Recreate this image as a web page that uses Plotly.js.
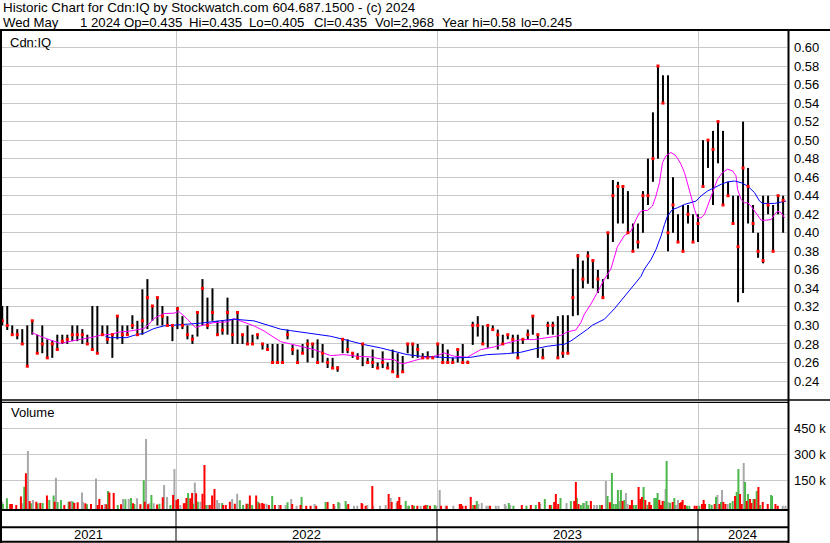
<!DOCTYPE html>
<html><head><meta charset="utf-8">
<script src="https://cdn.plot.ly/plotly-3.0.1.min.js"></script>
<style>html,body{margin:0;padding:0;background:#fff}#chart{width:830px;height:543px}</style>
</head><body><div id="chart"></div>
<script>
// ---------- DATA ----------
const START = '2021-05-03';            // week 0 (weekly samples of the daily chart)
const weekHi = [
.321,.321,.300,.296,.296,.300,.305,.290,.300,.285,
.284,.290,.290,.290,.300,.300,.296,.290,.321,.321,
.300,.300,.290,.310,.300,.300,.311,.305,.339,.350,
.321,.330,.321,.310,.300,.320,.310,.300,.290,.314,
.350,.330,.340,.305,.305,.330,.307,.314,.290,.300,
.290,.290,.280,.280,.280,.280,.280,.2955,.279,.274,
.280,.285,.280,.285,.280,.265,.265,.256,.285,.285,
.270,.270,.280,.265,.274,.260,.272,.260,.274,.270,
.267,.280,.280,.280,.270,.272,.267,.280,.280,.274,
.265,.275,.280,.262,.304,.310,.300,.300,.300,.2955,
.290,.290,.290,.290,.285,.2955,.310,.290,.275,.304,
.304,.310,.311,.311,.361,.377,.370,.380,.370,.360,
.350,.400,.457,.455,.450,.445,.410,.410,.445,.480,
.530,.580,.570,.570,.460,.420,.430,.430,.420,.420,
.500,.500,.510,.520,.510,.455,.440,.440,.520,.470,
.430,.400,.440,.440,.430,.440,.440];
const weekLo = [
.300,.295,.290,.285,.280,.256,.290,.270,.270,.265,
.265,.274,.280,.280,.283,.283,.280,.280,.274,.270,
.290,.280,.265,.285,.280,.290,.296,.290,.290,.296,
.305,.300,.300,.2995,.283,.296,.296,.285,.280,.288,
.300,.296,.305,.290,.290,.290,.280,.280,.280,.280,
.280,.285,.274,.274,.260,.260,.260,.285,.268,.260,
.270,.260,.265,.260,.260,.254,.254,.250,.270,.270,
.265,.263,.256,.260,.254,.254,.254,.254,.250,.245,
.250,.270,.265,.265,.265,.265,.265,.265,.260,.260,
.260,.260,.260,.260,.279,.288,.280,.276,.295,.274,
.280,.285,.270,.265,.280,.285,.290,.265,.265,.290,
.290,.265,.265,.270,.310,.311,.340,.345,.340,.335,
.330,.350,.390,.410,.410,.400,.380,.383,.400,.430,
.455,.480,.540,.380,.400,.390,.380,.410,.390,.390,
.450,.470,.430,.475,.430,.440,.410,.325,.335,.410,
.400,.373,.367,.420,.380,.420,.400];
const weekCl = [
.305,.300,.290,.290,.280,.256,.305,.270,.280,.265,
.280,.274,.283,.285,.290,.290,.290,.280,.274,.270,
.290,.285,.290,.310,.290,.290,.300,.290,.305,.330,
.321,.330,.310,.300,.300,.318,.300,.290,.285,.314,
.340,.300,.314,.290,.295,.314,.290,.314,.290,.280,
.280,.290,.280,.274,.260,.260,.260,.290,.274,.260,
.270,.280,.280,.260,.270,.260,.254,.254,.285,.274,
.270,.265,.280,.260,.260,.254,.260,.254,.250,.245,
.250,.280,.280,.274,.265,.265,.265,.280,.260,.260,
.260,.274,.260,.260,.300,.300,.280,.300,.2955,.290,
.280,.290,.285,.265,.285,.290,.310,.290,.265,.300,
.300,.265,.270,.270,.330,.375,.350,.375,.370,.350,
.330,.400,.440,.450,.450,.400,.380,.390,.440,.440,
.480,.580,.540,.400,.430,.390,.380,.420,.390,.410,
.450,.500,.490,.520,.430,.440,.410,.385,.470,.450,
.410,.380,.370,.430,.380,.440,.435];

// short moving average (magenta) : position in weeks from START, value
const pinkWk = [5.9,8.3,11.6,13.6,15.6,17.6,19.6,21.6,23.6,25.6,28.3,29.3,30.3,32.3,34.3,35.3,37.0,38.6,39.6,42.3,45.0,46.3,47.6,50.3,52.3,54.3,55.6,57.6,59.6,62.3,65.6,68.3,70.9,73.6,75.6,78.3,79.3,80.3,82.3,84.3,86.9,88.3,90.3,92.9,95.6,98.3,100.9,103.6,106.3,108.9,110.3,111.6,112.9,114.6,115.6,116.3,117.6,118.9,120.3,121.6,122.9,124.3,125.6,126.6,127.3,127.9,128.9,129.9,130.6,131.3,131.9,132.6,133.6,134.6,135.6,136.3,136.9,137.6,138.3,138.9,139.6,140.3,140.9,141.6,142.3,142.9,143.9,144.9,145.9,146.6,146.9,147.6,148.3,148.9,149.6,150.3,150.9,151.6,152.6,153.6,154.3,154.9,155.6,156.3];
const pinkMA = [.2922,.2868,.2806,.2832,.285,.2868,.2893,.2904,.293,.294,.2966,.3013,.3074,.3128,.3132,.315,.3067,.2976,.2995,.3031,.3038,.3074,.3049,.2995,.294,.2868,.2825,.280,.2775,.2739,.2674,.2685,.2667,.266,.2638,.2631,.2595,.2588,.262,.2649,.2674,.2703,.2667,.2656,.2739,.2768,.2811,.2847,.2847,.2865,.288,.2893,.293,.2951,.3031,.3121,.323,.3356,.350,.361,.385,.397,.4017,.4143,.4216,.4241,.4241,.4288,.4397,.4541,.4758,.483,.4867,.483,.474,.465,.454,.4397,.4252,.4161,.4161,.4198,.4288,.4397,.4505,.4578,.465,.4686,.4668,.4614,.4469,.436,.4324,.4324,.4288,.4234,.418,.4136,.4136,.4143,.4198,.4234,.4216,.4161];
// long moving average (blue)
const blueWk = [20.6,21.6,24.9,26.3,28.3,30.3,32.3,34.3,37.0,39.6,42.3,45.0,46.3,50.3,52.9,55.6,57.6,59.6,62.3,65.6,68.9,72.3,75.6,78.3,80.9,83.6,86.3,90.3,93.6,96.9,100.9,103.6,106.3,108.9,111.6,112.3,113.6,114.9,116.9,117.9,120.3,122.3,124.3,126.3,127.6,128.3,129.6,130.6,131.6,132.3,132.9,133.9,134.9,136.3,137.6,138.6,139.6,140.9,142.3,143.6,144.9,146.3,147.6,148.9,150.3,151.3,151.9,154.3,156.6];
const blueMA = [.2879,.2868,.2868,.2893,.2915,.2966,.2995,.3002,.3013,.3024,.3042,.306,.3067,.3049,.3002,.296,.2944,.293,.2908,.2883,.284,.2793,.2757,.2721,.2685,.2667,.266,.2649,.2656,.2685,.2696,.271,.2746,.2775,.2793,.2796,.2832,.2879,.2958,.3002,.3067,.318,.331,.344,.3529,.3609,.371,.3818,.3963,.4089,.418,.4252,.427,.4306,.4324,.4342,.4397,.4451,.4487,.4523,.4549,.4559,.4541,.4505,.4433,.4342,.4317,.4317,.4342];

// volume bars: position (weeks from START), volume (thousands), colour (g=up, r=down, n=unchanged)
const volWk = [0.0,0.13,0.93,1.6,1.93,2.8,3.73,4.0,4.4,4.73,5.13,5.47,5.73,6.13,6.8,7.07,7.6,8.07,8.93,9.4,10.27,10.47,10.73,11.07,11.73,12.4,13.27,13.47,13.8,14.13,14.4,15.07,15.93,16.13,16.6,16.93,17.73,18.73,19.07,19.4,19.93,20.47,20.8,21.13,21.4,22.27,23.07,23.73,24.13,24.6,25.27,25.73,26.13,26.4,26.93,27.6,28.27,28.47,28.73,29.13,29.4,29.8,30.27,30.93,31.4,32.07,32.33,32.93,33.6,34.13,34.4,34.8,35.13,35.6,36.27,36.47,36.8,37.13,37.4,37.6,37.93,38.13,38.47,38.73,39.07,39.6,40.0,40.4,40.73,41.13,41.47,41.93,42.4,42.93,43.33,43.93,44.13,44.67,45.47,45.93,46.47,46.93,47.47,48.13,48.8,49.07,49.47,49.93,50.73,51.13,51.4,51.93,52.27,52.8,53.27,
53.93,54.47,55.27,55.6,56.6,57.0,57.73,57.93,58.8,59.6,59.8,60.73,61.6,62.4,62.73,64.6,65.0,66.2,66.4,67.13,67.4,68.6,68.73,69.13,70.27,70.93,71.8,71.93,72.6,72.93,73.93,74.13,75.47,76.6,77.2,77.6,77.8,78.8,79.0,79.33,79.6,80.6,80.93,81.27,81.93,82.27,82.93,83.6,84.27,84.6,84.93,85.47,86.4,86.73,87.4,87.67,88.6,88.8,90.13,91.4,91.67,91.93,92.6,93.6,94.07,94.4,94.8,95.13,95.8,96.73,97.13,97.47,98.6,99.13,100.4,100.6,101.2,101.47,102.13,103.8,104.73,
105.6,106.6,107.27,107.47,108.4,109.4,109.67,110.27,110.6,111.07,111.53,112.73,113.6,114.27,114.6,114.8,115.13,115.6,116.07,116.27,116.73,117.07,117.6,118.27,118.8,119.4,119.8,120.6,120.93,121.4,121.8,122.13,122.6,123.0,123.27,123.6,123.93,124.27,124.6,124.93,125.4,125.8,126.13,126.6,127.13,127.47,127.8,128.13,128.47,128.93,129.27,129.6,130.27,130.6,130.93,131.27,131.6,131.93,132.27,132.53,132.73,133.07,133.4,133.93,134.27,134.6,135.0,135.4,135.67,135.93,136.4,136.8,137.27,138.33,138.73,139.27,139.8,140.13,140.4,141.27,141.73,142.33,142.6,142.87,143.27,143.6,143.8,144.07,144.47,144.93,145.4,145.93,146.4,146.73,147.07,147.4,147.73,148.13,148.4,148.73,149.0,149.4,149.67,150.07,150.33,150.73,151.07,151.4,151.93,152.93,153.6,153.8,154.47,154.93,155.93,156.47];
const volK = [27,13,46,13,13,8,56,17,113,190,319,31,17,37,27,17,19,19,62,37,62,27,165,25,37,8,27,27,31,27,19,23,79,25,17,12,13,160,8,42,8,13,12,88,79,77,8,12,42,40,42,48,17,13,46,12,150,27,388,12,17,65,17,10,15,52,123,54,8,65,215,37,42,8,17,17,48,77,42,46,77,15,138,75,27,27,73,238,8,8,8,62,100,37,19,19,8,8,27,42,15,73,35,8,15,15,62,8,62,27,17,19,15,15,8,
60,8,8,8,8,23,42,13,3,8,54,3,3,13,3,25,25,13,3,25,19,31,8,13,3,3,19,13,3,8,117,3,3,8,71,48,25,19,31,54,8,31,3,3,8,3,3,3,3,8,8,3,8,3,94,3,3,3,3,13,13,3,3,54,8,8,31,13,19,3,3,3,3,3,13,3,19,8,3,8,3,
8,8,25,13,42,8,8,25,71,13,48,19,31,31,140,48,13,8,19,19,31,8,31,8,8,8,8,146,60,23,192,13,13,94,31,94,31,37,77,13,8,37,8,8,111,42,54,111,37,8,25,8,48,48,77,37,8,31,31,100,262,25,19,25,48,8,37,19,25,37,8,3,3,3,3,3,13,37,13,13,8,13,54,65,13,25,94,25,13,13,19,31,60,83,215,71,13,250,140,31,71,42,19,42,42,88,111,8,25,13,65,60,13,3,3,3];
const volCol = 'nggrrrrngrnrgnrgrgrggrnggrgrngrrnnrgrnrrrnrgrrgrngngrgnrgrnrngnrgrnngrnrrnrrrgnrrgnrgnrrgnrrrnngrrrnrnggrgrgrgrrrnrg' +
'rnrngnrnrgrrnrgrrngnggrnnrrrnrnnnrnrnrrrgngrgrnrrgrgnnrnrnrrrrrgrgnnnnrnnnngngrgrgrngr' +
'grrrgngrrgrggnggrnngrngrggggngrgnnrrggrrrgrgrrgggrrrgngngrgnnrrrrggrrgrrrggrgnrgnrrnggrggrrngrgrrgrgrgrrggrrnngrrrgrgrrrngrgrnrgg';

const yearLabels = ['2021', '2022', '2023', '2024'];
const priceTicks = [0.24,0.26,0.28,0.30,0.32,0.34,0.36,0.38,0.40,0.42,0.44,0.46,0.48,0.50,0.52,0.54,0.56,0.58,0.60];
const volTicks = [150000, 300000, 450000];
const volTickText = ['150 k', '300 k', '450 k'];
const headerLine1 = 'Historic Chart for Cdn:IQ by Stockwatch.com 604.687.1500 - (c) 2024';
const headerLine2 = ['Wed May', '1 2024', 'Op=0.435', 'Hi=0.435', 'Lo=0.405', 'Cl=0.435', 'Vol=2,968', 'Year hi=0.58', 'lo=0.245'];

// ---------- helpers ----------
const W = 830, H = 543;
const t0 = Date.parse(START + 'T00:00:00Z');
const DAY = 86400000;
function wkDate(w) { return new Date(t0 + w * 7 * DAY).toISOString().slice(0, 19).replace('T', ' '); }
const X_RANGE = ['2021-04-29 20:53', '2024-05-04 11:00'];
const VOL_RANGE = [-21300, 600000];
const py = p => 1 - p / H;        // pixel row -> paper fraction
const pxX = p => p / W;

// price hi-lo bars
const bx = [], by = [];
for (let i = 0; i < weekHi.length; i++) {
  const d = wkDate(i);
  bx.push(d, d, null); by.push(weekLo[i], weekHi[i], null);
}
const traces = [];
traces.push({type:'scatter', mode:'lines', x:bx, y:by, xaxis:'x', yaxis:'y',
  line:{color:'#000', width:2}, hoverinfo:'skip', connectgaps:false});
traces.push({type:'scatter', mode:'lines', x:pinkWk.map(wkDate), y:pinkMA, xaxis:'x', yaxis:'y',
  line:{color:'#ff00ff', width:1}, hoverinfo:'skip'});
traces.push({type:'scatter', mode:'lines', x:blueWk.map(wkDate), y:blueMA, xaxis:'x', yaxis:'y',
  line:{color:'#0000ff', width:1}, hoverinfo:'skip'});
traces.push({type:'scatter', mode:'markers', x:weekCl.map((v,i)=>wkDate(i)), y:weekCl, xaxis:'x', yaxis:'y',
  marker:{symbol:'square', size:3, color:'#ff0000', line:{width:0}}, hoverinfo:'skip'});

// volume bars
const colMap = {g:'#4cb84c', r:'#ff0000', n:'#a8a8a8'};
['n','g','r'].forEach(c => {
  const vx = [], vy = [];
  for (let i = 0; i < volWk.length; i++) {
    if (volCol[i] !== c) continue;
    const d = wkDate(volWk[i]);
    vx.push(d, d, null); vy.push(VOL_RANGE[0], volK[i] * 1000, null);
  }
  traces.push({type:'scatter', mode:'lines', x:vx, y:vy, xaxis:'x2', yaxis:'y2',
    line:{color:colMap[c], width:2}, hoverinfo:'skip'});
});

// ---------- layout ----------
const FONT = '"Liberation Sans", Arial, Helvetica, sans-serif';
const yearStarts = ['2022-01-01', '2023-01-01', '2024-01-01'];
const shapes = [];
function hl(y, x0, x1, w) { shapes.push({type:'line', xref:'paper', yref:'paper', x0:pxX(x0), x1:pxX(x1), y0:py(y), y1:py(y), line:{color:'#000', width:w}}); }
function vl(x, y0, y1, w) { shapes.push({type:'line', xref:'paper', yref:'paper', x0:pxX(x), x1:pxX(x), y0:py(y0), y1:py(y1), line:{color:'#000', width:w}}); }
hl(30, 0, 830, 2);
hl(400, 0, 830, 1.5);
hl(402.3, 0, 788, 1.2);
hl(510, 0, 788, 2);
hl(527.3, 0, 788, 2);
hl(541.7, 0, 788, 2);
vl(1, 29, 543, 2);
vl(788.5, 29, 543, 2);
yearStarts.forEach(d => shapes.push({type:'line', xref:'x', yref:'paper', x0:d, x1:d, y0:py(542), y1:py(510), line:{color:'#000', width:1}}));

const annotations = [
  {text:headerLine1.replace(/ /g, '\u00a0'), xref:'paper', yref:'paper', x:pxX(1), y:py(8), xanchor:'left', yanchor:'middle', showarrow:false, font:{size:13.4, family:FONT, color:'#000'}},
  {text:'Cdn:IQ', xref:'paper', yref:'paper', x:pxX(8), y:py(42), xanchor:'left', yanchor:'middle', showarrow:false, font:{size:13, family:FONT, color:'#000'}},
  {text:'Volume', xref:'paper', yref:'paper', x:pxX(9), y:py(413), xanchor:'left', yanchor:'middle', showarrow:false, font:{size:13, family:FONT, color:'#000'}}
];
// header line 2 items at their column positions
const line2X = [1, 78, 122, 187, 247, 312, 373, 440, 519];
headerLine2.forEach((t, k) => annotations.push({text:t.replace(/ /g, '\u00a0'), xref:'paper', yref:'paper', x:pxX(line2X[k]), y:py(22.5),
  xanchor:'left', yanchor:'middle', showarrow:false, font:{size:13.2, family:FONT, color:'#000'}}));
// year labels centred in each year's segment
const r0 = Date.parse(X_RANGE[0].replace(' ', 'T') + ':00Z'), r1 = Date.parse(X_RANGE[1].replace(' ', 'T') + ':00Z');
yearLabels.forEach(y => {
  const a = Math.max(r0, Date.parse(y + '-01-01T00:00:00Z'));
  const b = Math.min(r1, Date.parse((+y + 1) + '-01-01T00:00:00Z'));
  const mid = new Date((a + b) / 2).toISOString().slice(0, 19).replace('T', ' ');
  annotations.push({text:y, xref:'x', yref:'paper', x:mid, y:py(534.5), xanchor:'center', yanchor:'middle', showarrow:false, font:{size:13, family:FONT, color:'#000'}});
});

const layout = {
  width:W, height:H, margin:{l:0, r:0, t:0, b:0, pad:0},
  paper_bgcolor:'#fff', plot_bgcolor:'#fff', showlegend:false,
  font:{family:FONT, size:13, color:'#000'},
  xaxis:{domain:[0, pxX(787)], range:X_RANGE, type:'date', tickvals:yearStarts, showticklabels:false,
    showgrid:true, gridcolor:'#c8c8c8', gridwidth:1, zeroline:false, ticks:'', showline:false, anchor:'y', fixedrange:true},
  xaxis2:{domain:[0, pxX(787)], range:X_RANGE, type:'date', tickvals:yearStarts, showticklabels:false, matches:'x',
    showgrid:true, gridcolor:'#c8c8c8', gridwidth:1, zeroline:false, ticks:'', showline:false, anchor:'y2', fixedrange:true},
  yaxis:{domain:[py(400), py(31)], range:[0.2195, 0.6178], side:'right', anchor:'x', tickvals:priceTicks, tickformat:'.2f',
    showgrid:true, gridcolor:'#c8c8c8', gridwidth:1, zeroline:false, ticks:'', showline:false, ticklabelstandoff:6,
    tickfont:{size:13, family:FONT, color:'#000'}, fixedrange:true},
  yaxis2:{domain:[py(510), py(402.3)], range:VOL_RANGE, side:'right', anchor:'x2', tickvals:volTicks, ticktext:volTickText,
    showgrid:true, gridcolor:'#c8c8c8', gridwidth:1, zeroline:false, ticks:'', showline:false, ticklabelstandoff:6,
    tickfont:{size:13, family:FONT, color:'#000'}, fixedrange:true},
  shapes:shapes, annotations:annotations
};
Plotly.newPlot('chart', traces, layout, {staticPlot:true, displayModeBar:false});
</script></body></html>
